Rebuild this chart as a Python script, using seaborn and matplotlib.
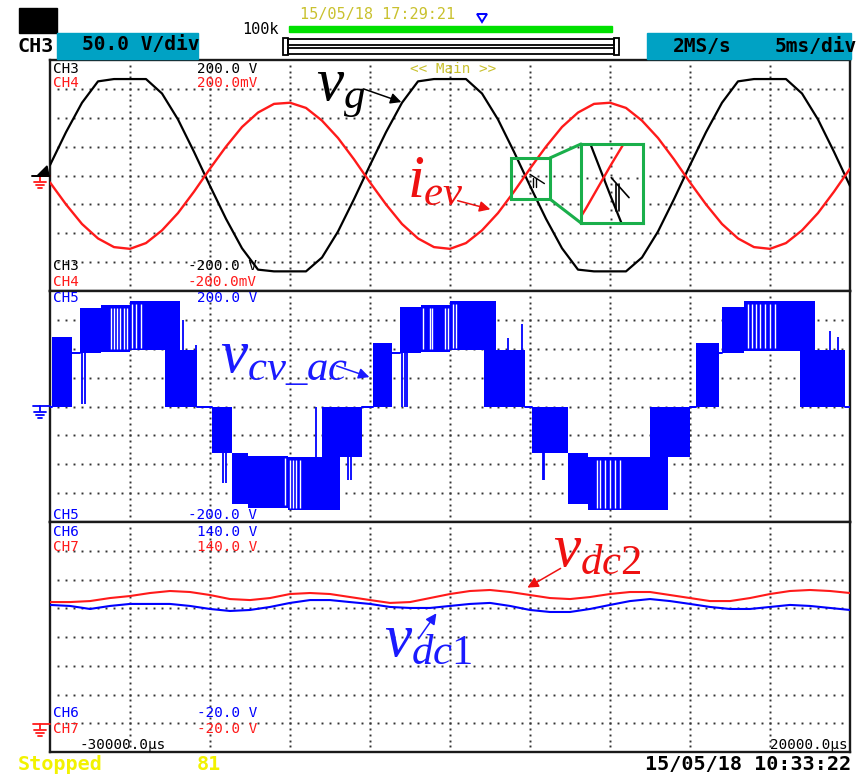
import numpy as np
import pandas as pd
import matplotlib
matplotlib.use("Agg")
import matplotlib.pyplot as plt
import seaborn as sns
from matplotlib.patches import Rectangle, Polygon, FancyArrowPatch, ConnectionPatch

# ---------------------------------------------------------------- data
# CH3 grid voltage [V] and CH4 converter current probe [mV], sampled every 1 ms
t_grid = np.arange(-30.0, 20.5, 1.0)
vg = [18, 75, 126, 163, 167, 167, 167, 142, 97, 41,
      -18, -75, -126, -163, -166, -166, -166, -142, -97, -41,
      18, 75, 126, 163, 167, 167, 167, 142, 97, 41,
      -18, -75, -126, -163, -166, -166, -166, -142, -97, -41,
      18, 75, 126, 163, 167, 167, 167, 142, 97, 41, -18]
iev = [-12, -50, -84, -109, -124, -127, -117, -95, -65, -28,
       12, 50, 84, 109, 124, 126, 117, 95, 65, 28,
       -12, -50, -84, -109, -124, -127, -117, -95, -65, -28,
       12, 50, 84, 109, 124, 126, 117, 95, 65, 28,
       -12, -50, -84, -109, -124, -127, -117, -95, -65, -28, 12]

# CH5 converter ac voltage: switching envelope per interval (ms, V)
cv_edges = [-30.0, -29.9, -28.6, -28.1, -26.8, -25.0, -22.8, -21.9, -20.8,
            -19.9, -18.6, -17.6, -15.1, -13.0, -11.9, -10.5,
            -9.8, -8.6, -8.1, -6.8, -5.0, -2.9, -2.1, -0.3,
            0.1, 2.4, 3.6, 7.5, 8.6, 10.0,
            10.4, 11.8, 12.0, 13.4, 16.9, 17.8, 19.7, 20.0]
cv_lo = [0, 0, 93, 93, 95, 97, 0, 0, 0,
         -81, -168, -175, -180, -180, -88, 0,
         0, 93, 93, 95, 97, 0, 0, 0,
         -81, -168, -180, -180, -88, 0,
         0, 93, 93, 96, 0, 0, 0]
cv_hi = [0, 120, 93, 171, 176, 182, 182, 97, 0,
         0, -81, -85, -87, 0, 0, 0,
         110, 93, 173, 176, 183, 182, 97, 0,
         0, -81, -87, 0, 0, 0,
         110, 93, 173, 182, 182, 97, 0]
# columns where the switching stays on one level
cv_gaps = [-26.2, -26.0, -25.8, -25.6, -25.4, -25.2, -24.9, -24.6, -24.3,
           -15.3, -15.0, -14.8, -14.6, -14.4,
           -6.7, -6.25, -6.1, -5.3, -5.1, -4.8, -4.6,
           4.2, 4.4, 4.7, 5.0, 5.3, 5.6,
           13.6, 13.9, 14.1, 14.4, 14.7, 15.0, 15.3]
# isolated switching transients
cv_spike_t = [-28.0, -27.8, -21.7, -20.9, -19.2, -19.0, -13.4, -11.4, -11.2,
              -8.0, -7.8, -7.7, -1.4, -0.5, 0.8, 0.9, 18.75, 19.25]
cv_spike_from = [93, 93, 97, 97, -81, -81, -87, -88, -88,
                 93, 93, 93, 97, 97, -81, -81, 97, 97]
cv_spike_to = [5, 5, 150, 107, -132, -132, 0, -128, -128,
               0, 0, 0, 119, 142, -128, -128, 130, 120]

# CH6 / CH7 dc-link voltages [V], sampled every 1.25 ms
t_dc = np.arange(-30.0, 20.01, 1.25)
vdc2 = [84.3, 84.3, 85.0, 87.1, 88.5, 90.6, 92.0, 91.3, 89.2, 86.4,
        85.7, 87.1, 89.9, 90.6, 89.9, 87.8, 85.7, 83.7, 84.3, 87.1,
        89.9, 92.0, 92.7, 91.3, 89.2, 87.1, 86.4, 87.8, 89.9, 91.3,
        91.3, 89.2, 87.1, 85.0, 85.0, 87.1, 89.9, 92.0, 92.7, 92.0, 90.6]
vdc1 = [82.3, 81.6, 79.5, 81.6, 83.0, 83.0, 83.0, 81.6, 79.5, 78.1,
        78.8, 80.9, 83.7, 85.7, 85.7, 84.3, 83.0, 80.9, 80.2, 80.2,
        81.6, 83.0, 83.7, 81.6, 78.8, 77.4, 77.4, 79.5, 82.3, 85.0,
        86.4, 85.0, 83.0, 80.9, 79.5, 79.5, 80.9, 82.3, 81.6, 80.2, 78.8]

# ---------------------------------------------------------------- style
W, H = 862, 774
sns.set_theme(style="white")
plt.rcParams["font.family"] = ["DejaVu Sans Mono", "DejaVu Sans"]
plt.rcParams["mathtext.fontset"] = "custom"
plt.rcParams["mathtext.it"] = "Liberation Serif:italic"
plt.rcParams["mathtext.rm"] = "Liberation Serif"

RED = "#ff1a1a"
BLUE = "#0000ff"
GREEN = "#1aaf4b"
CYAN = "#00a2c4"
OLIVE = "#c9c12e"
YELLOW = "#f2f200"
DOT = "#333333"

fig = plt.figure(figsize=(W / 100, H / 100), dpi=100)
fig.patch.set_facecolor("white")


def fx(x):
    return x / W


def fy(y):
    return 1 - y / H


def ftext(x, y, s, **kw):
    kw.setdefault("va", "center")
    fig.text(fx(x), fy(y), s, **kw)


def frect(x0, y0, x1, y1, **kw):
    fig.add_artist(Rectangle((fx(x0), fy(y1)), (x1 - x0) / W, (y1 - y0) / H,
                             transform=fig.transFigure, **kw))


def fline(xs, ys, **kw):
    fig.add_artist(plt.Line2D([fx(v) for v in xs], [fy(v) for v in ys],
                              transform=fig.transFigure, **kw))


def panel(y0, y1, lo, hi):
    ax = fig.add_axes([fx(50), fy(y1), 800 / W, (y1 - y0) / H])
    ax.set_facecolor("white")
    step = (hi - lo) / 8
    xs = np.arange(-29.5, 20, 0.5)
    for yv in np.arange(lo + step, hi - step / 2, step):
        ax.plot(xs, np.full_like(xs, yv), ls="none", marker="s", ms=1.4,
                mfc=DOT, mec="none", zorder=1)
    ys = np.arange(lo + step / 5, hi - step / 10, step / 5)
    for xv in range(-25, 20, 5):
        ax.plot(np.full_like(ys, xv), ys, ls="none", marker="s", ms=1.4,
                mfc=DOT, mec="none", zorder=1)
    return ax


def finish(ax, lo, hi):
    ax.set_xlim(-30, 20)
    ax.set_ylim(lo, hi)
    ax.set_xticks([])
    ax.set_yticks([])
    ax.set_xlabel("")
    ax.set_ylabel("")
    for s in ax.spines.values():
        s.set_color("#1a1a1a")
        s.set_linewidth(1.7)


# ---------------------------------------------------------------- panel 1
ax1 = panel(60, 291, -200, 200)
df1 = pd.DataFrame({"t": t_grid, "vg": vg, "iev": iev})
sns.lineplot(data=df1, x="t", y="vg", ax=ax1, color="black", lw=1.6,
             estimator=None, sort=False, legend=False, zorder=3)
sns.lineplot(data=df1, x="t", y="iev", ax=ax1, color=RED, lw=1.7,
             estimator=None, sort=False, legend=False, zorder=4)
finish(ax1, -200, 200)

# zoom window around the crossing
zx0, zx1, zy0, zy1 = -1.19, 1.25, -40.9, 30.4
ax1.add_patch(Rectangle((zx0, zy0), zx1 - zx0, zy1 - zy0, fill=False,
                        ec=GREEN, lw=2.2, zorder=6))
# trigger cursor inside the small window
ax1.plot([0.2, 0.2], [-4, -20], color="black", lw=1.0, zorder=5)
ax1.plot([0.35, 0.35], [-4, -20], color="black", lw=1.0, zorder=5)
ax1.plot([0.0, 0.9], [2, -14], color="black", lw=1.0, zorder=5)

axz = fig.add_axes([fx(581), fy(223), 62 / W, 79 / H])
axz.plot([0] * 9, np.linspace(zy0 + 4, zy1 - 4, 9), ls="none", marker="s",
         ms=1.4, mfc=DOT, mec="none")
axz.plot(np.linspace(zx0 + 0.25, zx1 - 0.25, 7), [0] * 7, ls="none",
         marker="s", ms=1.4, mfc=DOT, mec="none")
sns.lineplot(data=df1, x="t", y="vg", ax=axz, color="black", lw=1.6,
             estimator=None, sort=False, legend=False)
sns.lineplot(data=df1, x="t", y="iev", ax=axz, color=RED, lw=1.7,
             estimator=None, sort=False, legend=False)
axz.plot([0.2, 0.2], [-6, -30], color="black", lw=1.2)
axz.plot([0.3, 0.3], [-6, -30], color="black", lw=1.2)
axz.plot([0.0, 0.7], [0, -18], color="black", lw=1.2)
axz.set_xlim(zx0, zx1)
axz.set_ylim(zy0, zy1)
axz.set_xticks([])
axz.set_yticks([])
axz.set_xlabel("")
axz.set_ylabel("")
for s in axz.spines.values():
    s.set_color(GREEN)
    s.set_linewidth(2.2)
for ya, yb in ((zy1, 1), (zy0, 0)):
    fig.add_artist(ConnectionPatch(xyA=(zx1, ya), coordsA=ax1.transData,
                                   xyB=(0, yb), coordsB=axz.transAxes,
                                   color=GREEN, lw=2.2))

# ---------------------------------------------------------------- panel 2
ax2 = panel(291, 522, -200, 200)
for i in range(len(cv_lo)):
    t0, t1 = cv_edges[i], cv_edges[i + 1]
    lo, hi = cv_lo[i], cv_hi[i]
    if lo == hi:
        ax2.plot([t0, t1], [lo, hi], color=BLUE, lw=1.4, zorder=3)
    else:
        ax2.fill_between([t0, t1], [lo, lo], [hi, hi], color=BLUE, lw=0,
                         zorder=3)
for g in cv_gaps:
    i = np.searchsorted(cv_edges, g) - 1
    ax2.vlines(g, cv_lo[i] + 5, cv_hi[i] - 5, color="white", lw=1.0, zorder=4)
ax2.vlines(cv_spike_t, cv_spike_from, cv_spike_to, color=BLUE, lw=1.3, zorder=4)
finish(ax2, -200, 200)

# ---------------------------------------------------------------- panel 3
ax3 = panel(522, 752, -20, 140)
df3 = pd.DataFrame({"t": t_dc, "vdc2": vdc2, "vdc1": vdc1})
sns.lineplot(data=df3, x="t", y="vdc1", ax=ax3, color=BLUE, lw=1.5,
             estimator=None, sort=False, legend=False, zorder=3)
sns.lineplot(data=df3, x="t", y="vdc2", ax=ax3, color=RED, lw=1.5,
             estimator=None, sort=False, legend=False, zorder=3)
finish(ax3, -20, 140)

# ---------------------------------------------------------------- channel texts
small = dict(fontsize=10.3)
ftext(53, 69, "CH3", color="black", **small)
ftext(257, 69, "200.0 V", color="black", ha="right", **small)
ftext(53, 83, "CH4", color=RED, **small)
ftext(257, 83, "200.0mV", color=RED, ha="right", **small)
ftext(410, 69, "<< Main >>", color=OLIVE, **small)
ftext(53, 266, "CH3", color="black", **small)
ftext(257, 266, "-200.0 V", color="black", ha="right", **small)
ftext(53, 282, "CH4", color=RED, **small)
ftext(257, 282, "-200.0mV", color=RED, ha="right", **small)
ftext(53, 298, "CH5", color=BLUE, **small)
ftext(257, 298, "200.0 V", color=BLUE, ha="right", **small)
ftext(53, 515, "CH5", color=BLUE, **small)
ftext(257, 515, "-200.0 V", color=BLUE, ha="right", **small)
ftext(53, 532, "CH6", color=BLUE, **small)
ftext(257, 532, "140.0 V", color=BLUE, ha="right", **small)
ftext(53, 547, "CH7", color=RED, **small)
ftext(257, 547, "140.0 V", color=RED, ha="right", **small)
ftext(53, 713, "CH6", color=BLUE, **small)
ftext(257, 713, "-20.0 V", color=BLUE, ha="right", **small)
ftext(53, 729, "CH7", color=RED, **small)
ftext(257, 729, "-20.0 V", color=RED, ha="right", **small)
ftext(80, 745, "-30000.0\u00b5s", color="black", **small)
ftext(848, 745, "20000.0\u00b5s", color="black", ha="right", **small)


# ground symbols at each channel's zero level
def ground(y, color):
    fline([33, 50], [y, y], color=color, lw=1.3)
    fline([40, 40], [y, y + 5], color=color, lw=1.3)
    fline([34, 46], [y + 6, y + 6], color=color, lw=1.3)
    fline([36, 44], [y + 9, y + 9], color=color, lw=1.3)
    fline([38, 42], [y + 12, y + 12], color=color, lw=1.3)


ground(176, RED)
fig.add_artist(Polygon([(fx(37), fy(176)), (fx(49), fy(176)), (fx(47), fy(166))],
                       closed=True, transform=fig.transFigure, color="black"))
fline([32, 50], [176, 176], color="black", lw=1.4)
ground(406, BLUE)
ground(724, RED)

# ---------------------------------------------------------------- header
frect(19, 8, 57, 33, color="black")
ftext(18, 46, "CH3", fontsize=14.5, weight="bold", color="black")
frect(57, 33, 198, 59, color=CYAN)
ftext(82, 45, "50.0 V/div", fontsize=14, weight="bold", color="black")
ftext(242, 30, "100k", fontsize=11, color="black")
ftext(300, 14, "15/05/18 17:29:21", fontsize=11, color=OLIVE)
frect(289, 26, 612, 32, color="#00e000")
fig.add_artist(Polygon([(fx(477), fy(14)), (fx(487), fy(14)), (fx(482), fy(22))],
                       closed=True, transform=fig.transFigure, fc="white",
                       ec=BLUE, lw=1.4))
frect(283, 38, 288, 55, fill=False, ec="black", lw=1.3)
frect(614, 38, 619, 55, fill=False, ec="black", lw=1.3)
frect(288, 39, 614, 45, fill=False, ec="black", lw=1.3)
frect(288, 48, 614, 54, fill=False, ec="black", lw=1.3)
frect(647, 33, 851, 59, color=CYAN)
ftext(673, 46, "2MS/s", fontsize=14, weight="bold", color="black")
ftext(775, 46, "5ms/div", fontsize=14, weight="bold", color="black")

# ---------------------------------------------------------------- footer
ftext(18, 765, "Stopped", fontsize=14.5, weight="bold", color=YELLOW)
ftext(197, 765, "81", fontsize=14.5, weight="bold", color=YELLOW)
ftext(851, 765, "15/05/18 10:33:22", fontsize=14.5, weight="bold",
      color="black", ha="right")

# ---------------------------------------------------------------- signal names
big = dict(fontsize=44, va="baseline", ha="left")
ftext(316, 101, r"$v_{g}$", color="black", **big)
ftext(407, 197, r"$i_{ev}$", color="#ee1111", **big)
ftext(220, 372, r"$v_{cv\_ac}$", color="#1a1aff", **big)
ftext(553, 566, r"$v_{dc2}$", color="#ee1111", **big)
ftext(384, 656, r"$v_{dc1}$", color="#1a1aff", **big)


def farrow(x0, y0, x1, y1, color):
    fig.add_artist(FancyArrowPatch((fx(x0), fy(y0)), (fx(x1), fy(y1)),
                                   transform=fig.transFigure, arrowstyle="-|>",
                                   mutation_scale=16, lw=1.1, color=color))


farrow(361, 88, 404, 103, "black")
farrow(455, 200, 493, 210, "#ee1111")
farrow(334, 365, 372, 378, "#1a1aff")
farrow(563, 567, 525, 589, "#ee1111")
farrow(417, 641, 438, 611, "#1a1aff")

fig.savefig("out.png", dpi=100, facecolor="white")
